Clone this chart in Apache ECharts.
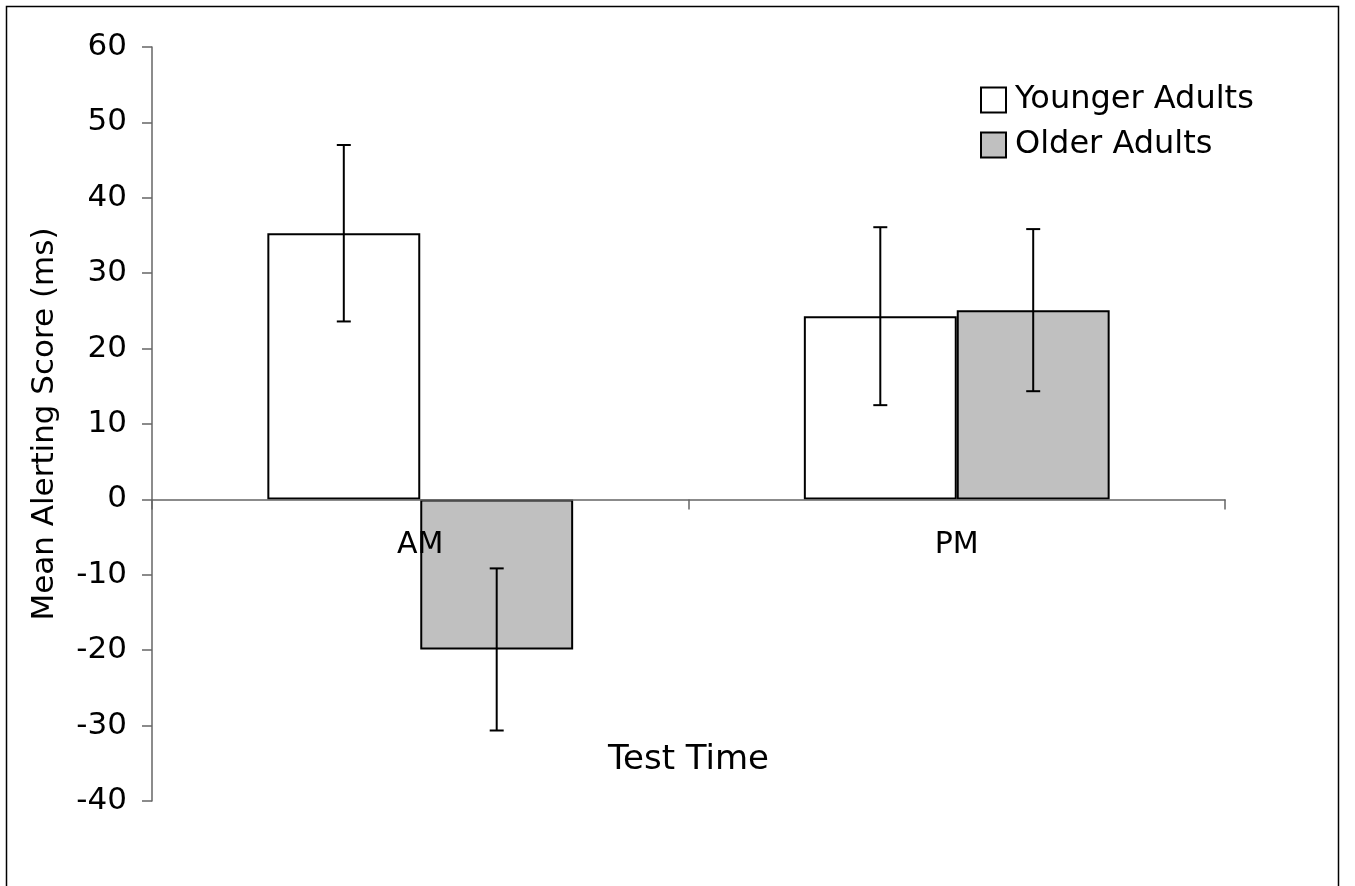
<!DOCTYPE html>
<html>
<head>
<meta charset="utf-8">
<script src="https://cdn.jsdelivr.net/npm/echarts@6/dist/echarts.min.js"></script>
<style>
html,body{margin:0;padding:0;background:#fff;}
#chart{width:1355px;height:886px;}
</style>
</head>
<body>
<div id="chart"></div>
<script>
var categories = ['AM', 'PM'];
var seriesNames = ['Younger Adults', 'Older Adults'];
var younger = [35.3, 24.3];
var older = [-19.9, 25.1];
var youngerErr = [11.7, 11.8];
var olderErr = [10.75, 10.75];
var yTicks = {min: -40, max: 60, interval: 10};

var FONT = 'DejaVu Sans, Verdana, sans-serif';
var GAP = 0.43;
var GRID_TOP = 47, GRID_BOTTOM = 85, H = 886;

function errorSeries(values, errs, side) {
  return {
    type: 'custom',
    z: 5,
    silent: true,
    data: values.map(function (v, i) { return [i, v, errs[i]]; }),
    renderItem: function (params, api) {
      var idx = api.value(0), v = api.value(1), e = api.value(2);
      var band = api.size([1, 0])[0];
      var bw = band * (1 - GAP) / 2;
      var c = api.coord([idx, v]);
      var x = c[0] + side * bw / 2;
      var top = api.coord([idx, v + e])[1];
      var bot = api.coord([idx, v - e])[1];
      var cap = 7;
      var st = {stroke: '#000', lineWidth: 2};
      return {
        type: 'group',
        children: [
          {type: 'line', shape: {x1: x, y1: top, x2: x, y2: bot}, style: st},
          {type: 'line', shape: {x1: x - cap, y1: top, x2: x + cap, y2: top}, style: st},
          {type: 'line', shape: {x1: x - cap, y1: bot, x2: x + cap, y2: bot}, style: st}
        ]
      };
    }
  };
}

// offset of the zero line from the grid bottom (derived from the axis range)
var plotH = H - GRID_TOP - GRID_BOTTOM;
var zeroOffset = plotH * (0 - yTicks.min) / (yTicks.max - yTicks.min);

var chart = echarts.init(document.getElementById('chart'));
chart.setOption({
  animation: false,
  backgroundColor: '#fff',
  graphic: [{
    type: 'rect', z: 100, silent: true,
    shape: {x: 6.5, y: 6.5, width: 1332, height: 920},
    style: {fill: 'none', stroke: '#000', lineWidth: 1.5}
  }],
  grid: {left: 152, right: 130, top: GRID_TOP, bottom: GRID_BOTTOM, containLabel: false, outerBoundsMode: 'none'},
  legend: {
    orient: 'vertical',
    left: 980,
    top: 84,
    padding: 0,
    itemWidth: 25,
    itemHeight: 25,
    itemGap: 13,
    icon: 'rect',
    data: seriesNames,
    textStyle: {fontFamily: FONT, fontSize: 32, color: '#000', padding: [0, 0, 0, 4]}
  },
  xAxis: {
    type: 'category',
    data: categories,
    z: 10,
    offset: -zeroOffset,
    name: 'Test Time',
    nameLocation: 'middle',
    nameGap: 244,
    nameTextStyle: {fontFamily: FONT, fontSize: 34, color: '#000'},
    axisLine: {onZero: false, lineStyle: {color: '#666', width: 1.5}},
    axisTick: {show: true, length: 10, lineStyle: {color: '#666', width: 1.5}},
    axisLabel: {fontFamily: FONT, fontSize: 30, color: '#000', margin: 31}
  },
  yAxis: {
    type: 'value',
    min: yTicks.min,
    max: yTicks.max,
    interval: yTicks.interval,
    name: 'Mean Alerting Score (ms)',
    nameLocation: 'middle',
    nameGap: 92,
    nameTextStyle: {fontFamily: FONT, fontSize: 31, color: '#000'},
    splitLine: {show: false},
    axisLine: {show: true, lineStyle: {color: '#666', width: 1.5}},
    axisTick: {show: true, length: 10, lineStyle: {color: '#666', width: 1.5}},
    axisLabel: {fontFamily: FONT, fontSize: 31, color: '#000', margin: 25}
  },
  series: [
    {
      name: seriesNames[0],
      type: 'bar',
      data: younger,
      barGap: '0%',
      barCategoryGap: (GAP * 100) + '%',
      itemStyle: {color: '#ffffff', borderColor: '#000', borderWidth: 2}
    },
    {
      name: seriesNames[1],
      type: 'bar',
      data: older,
      barGap: '0%',
      barCategoryGap: (GAP * 100) + '%',
      itemStyle: {color: '#c0c0c0', borderColor: '#000', borderWidth: 2}
    },
    errorSeries(younger, youngerErr, -1),
    errorSeries(older, olderErr, 1)
  ]
});
</script>
</body>
</html>
